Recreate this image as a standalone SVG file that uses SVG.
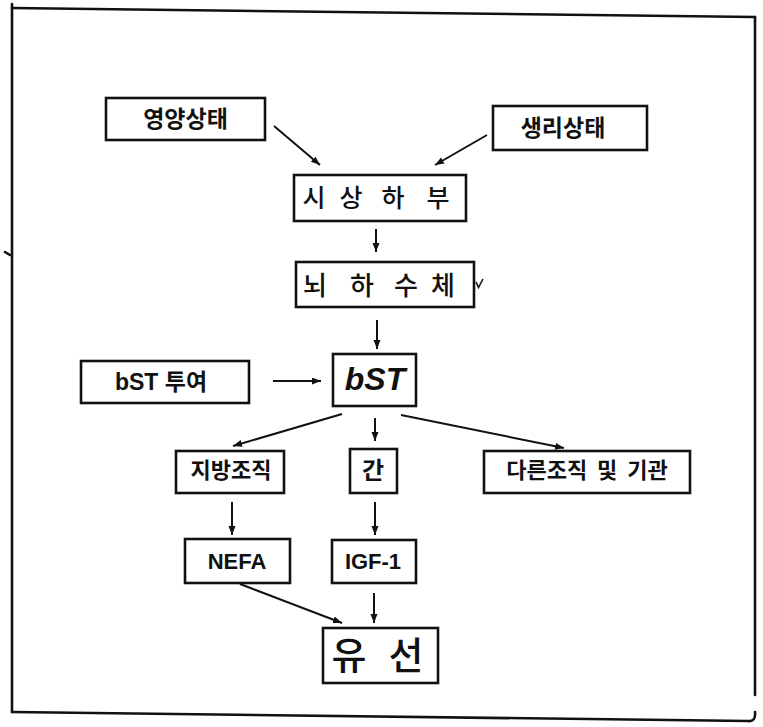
<svg xmlns="http://www.w3.org/2000/svg" width="763" height="727" viewBox="0 0 763 727">
<style>
.box{fill:#fff;stroke:#111;stroke-width:2.6}
.k{font-family:"Noto Sans CJK KR","Liberation Sans",sans-serif;font-weight:700;fill:#111;text-anchor:middle}
.kr{font-family:"Noto Sans CJK KR","Liberation Sans",sans-serif;font-weight:500;fill:#111;text-anchor:middle}
.l{font-family:"Liberation Sans","Noto Sans CJK KR",sans-serif;font-weight:700;fill:#111;text-anchor:middle}
.c{stroke:#111;stroke-width:2;fill:none;marker-end:url(#ah)}
.f{stroke:#111;stroke-width:2.6;fill:none;stroke-linecap:round}
</style>
<defs>
<marker id="ah" markerUnits="userSpaceOnUse" markerWidth="10" markerHeight="8" refX="9" refY="3.5" orient="auto">
<path d="M0,0 L9,3.5 L0,7 z" fill="#111"/>
</marker>
</defs>
<rect width="763" height="727" fill="#fff"/>
<g id="frame">
<path class="f" d="M12,4 L12,712"/>
<path class="f" d="M12,8 L755,17"/>
<path class="f" d="M755,17 L755,695"/>
<path class="f" d="M12,712 L748,721 Q756,722 755,712"/>
<path class="f" d="M5,252 L10,255" stroke-width="1.5"/>
</g>
<g id="connectors">
<line class="c" x1="274" y1="126" x2="320" y2="165"/>
<line class="c" x1="487" y1="135" x2="435" y2="165"/>
<line class="c" x1="376" y1="229" x2="376" y2="252"/>
<line class="c" x1="377" y1="320" x2="377" y2="349"/>
<line class="c" x1="273" y1="381" x2="321" y2="381"/>
<line class="c" x1="342" y1="414" x2="233" y2="446"/>
<line class="c" x1="375" y1="418" x2="375" y2="441"/>
<line class="c" x1="401" y1="415" x2="564" y2="448"/>
<line class="c" x1="232" y1="502" x2="232" y2="535"/>
<line class="c" x1="375" y1="502" x2="375" y2="535"/>
<line class="c" x1="240" y1="584" x2="342" y2="623"/>
<line class="c" x1="374" y1="593" x2="374" y2="623"/>
</g>
<g id="n-nutrition"><rect class="box" x="106" y="98" width="159" height="42"/><text class="k" x="185.5" y="127" font-size="23">영양상태</text></g>
<g id="n-physiology"><rect class="box" x="493" y="106" width="154" height="44"/><text class="k" x="563" y="136" font-size="23">생리상태</text></g>
<g id="n-hypothalamus"><rect class="box" x="294" y="175" width="172" height="46"/>
<text class="kr" y="207" font-size="25"><tspan x="314">시</tspan><tspan x="351">상</tspan><tspan x="393">하</tspan><tspan x="438">부</tspan></text></g>
<g id="n-pituitary"><rect class="box" x="296" y="262" width="178" height="45"/>
<text class="kr" y="295" font-size="26"><tspan x="315">뇌</tspan><tspan x="362">하</tspan><tspan x="406">수</tspan><tspan x="443">체</tspan></text>
<path d="M476,282 L478.5,287.5 L483,279" stroke="#111" stroke-width="1.6" fill="none"/></g>
<g id="n-bst"><rect class="box" x="333" y="354" width="83" height="52"/><text class="l" x="375" y="390" font-size="32" font-style="italic">bST</text></g>
<g id="n-bst-inj"><rect class="box" x="81" y="361" width="168" height="42"/><text class="l" x="161" y="390" font-size="23">bST 투여</text></g>
<g id="n-adipose"><rect class="box" x="176" y="451" width="108" height="42"/><text class="k" x="231" y="478" font-size="22">지방조직</text></g>
<g id="n-liver"><rect class="box" x="350" y="449" width="47" height="44"/><text class="k" x="373" y="479" font-size="24">간</text></g>
<g id="n-other"><rect class="box" x="484" y="451" width="206" height="42"/><text class="k" x="587" y="478" font-size="22" word-spacing="5">다른조직 및 기관</text></g>
<g id="n-nefa"><rect class="box" x="185" y="539" width="105" height="44"/><text class="l" x="237" y="569" font-size="22">NEFA</text></g>
<g id="n-igf"><rect class="box" x="332" y="540" width="84" height="43"/><text class="l" x="373" y="569" font-size="22">IGF-1</text></g>
<g id="n-mammary"><rect class="box" x="323" y="628" width="115" height="55"/>
<text class="kr" y="669" font-size="38"><tspan x="349">유</tspan><tspan x="406">선</tspan></text></g>
</svg>
